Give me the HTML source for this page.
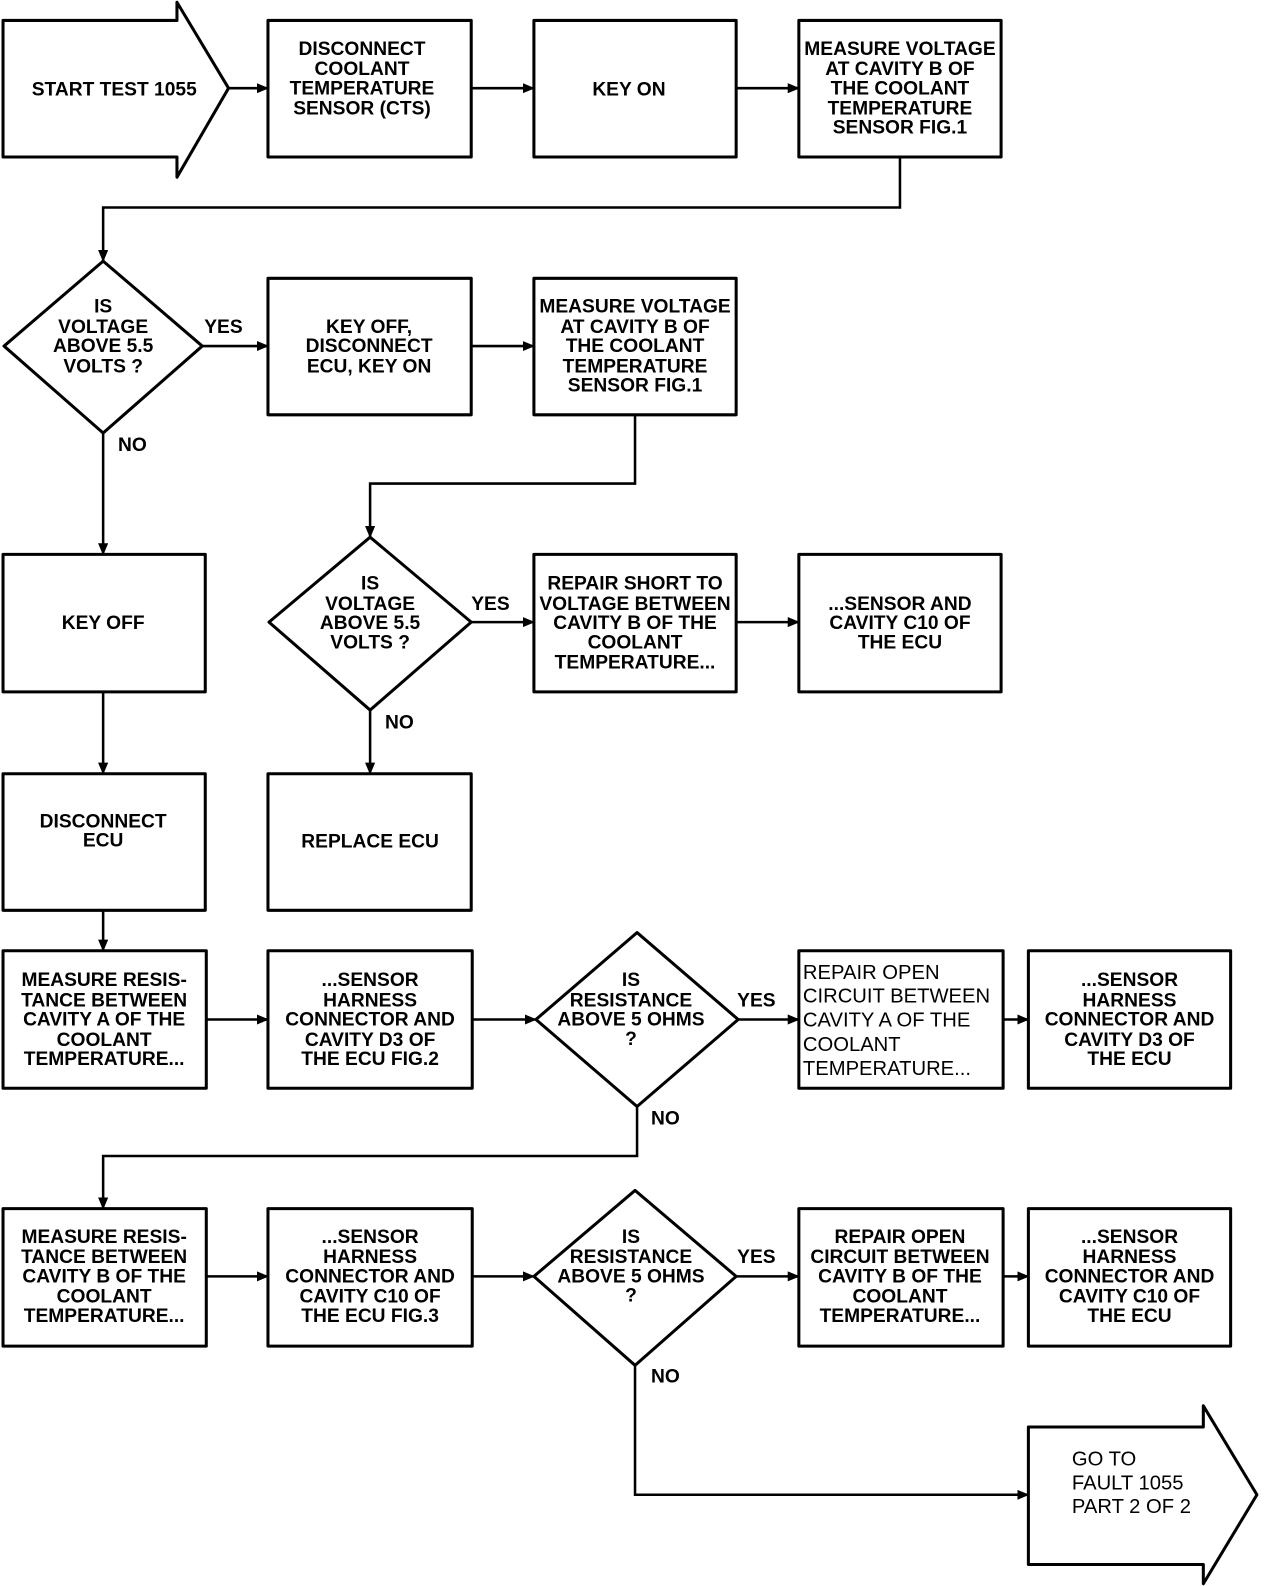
<!DOCTYPE html>
<html><head><meta charset="utf-8"><style>
html,body{margin:0;padding:0;background:#fff;}
svg{display:block;}
.b text{font-family:"Liberation Sans",sans-serif;font-weight:bold;font-size:19px;text-anchor:middle;}
.r text{font-family:"Liberation Sans",sans-serif;font-size:20px;text-anchor:start;}
</style></head><body>
<svg width="1264" height="1586" viewBox="0 0 1250 1568" xmlns="http://www.w3.org/2000/svg">
<defs><marker id="a" markerWidth="12" markerHeight="10" refX="11" refY="5" orient="auto" markerUnits="userSpaceOnUse"><path d="M0,0 L12,5 L0,10 Z" fill="#000"/></marker></defs>
<g fill="none" stroke="#000" stroke-width="3" stroke-linejoin="round">
<path d="M3,20 H175 V2 L226,87 L175,175 V155 H3 Z"/>
<rect x="265" y="20" width="201" height="135"/>
<rect x="528" y="20" width="200" height="135"/>
<rect x="790" y="20" width="200" height="135"/>
<path d="M102,258 L200,342 L102,428 L4,342 Z"/>
<rect x="265" y="275" width="201" height="135"/>
<rect x="528" y="275" width="200" height="135"/>
<path d="M366,531 L466,615 L366,702 L266,615 Z"/>
<rect x="528" y="548" width="200" height="136"/>
<rect x="790" y="548" width="200" height="136"/>
<rect x="3" y="548" width="200" height="136"/>
<rect x="3" y="765" width="200" height="135"/>
<rect x="265" y="765" width="201" height="135"/>
<rect x="3" y="940" width="201" height="136"/>
<rect x="265" y="940" width="202" height="136"/>
<path d="M630,922 L730,1008 L630,1094 L530,1008 Z"/>
<rect x="790" y="940" width="202" height="136"/>
<rect x="1017" y="940" width="200" height="136"/>
<rect x="3" y="1195" width="201" height="136"/>
<rect x="265" y="1195" width="202" height="136"/>
<path d="M628,1177 L728,1262 L628,1350 L528,1262 Z"/>
<rect x="790" y="1195" width="202" height="136"/>
<rect x="1017" y="1195" width="200" height="136"/>
<path d="M1017,1411 H1190 V1390 L1243,1478 L1190,1566 V1547 H1017 Z"/>
</g>
<g fill="none" stroke="#000" stroke-width="2.5" marker-end="url(#a)">
<path d="M226,87 H265"/>
<path d="M466,87 H528"/>
<path d="M728,87 H790"/>
<path d="M890,155 V205 H102 V258"/>
<path d="M200,342 H265"/>
<path d="M466,342 H528"/>
<path d="M628,410 V478 H366 V531"/>
<path d="M466,615 H528"/>
<path d="M728,615 H790"/>
<path d="M102,428 V548"/>
<path d="M366,702 V765"/>
<path d="M102,684 V765"/>
<path d="M102,900 V940"/>
<path d="M204,1008 H265"/>
<path d="M467,1008 H530"/>
<path d="M730,1008 H790"/>
<path d="M992,1008 H1017"/>
<path d="M630,1094 V1143 H102 V1195"/>
<path d="M204,1262 H265"/>
<path d="M467,1262 H528"/>
<path d="M728,1262 H790"/>
<path d="M992,1262 H1017"/>
<path d="M628,1350 V1478 H1017"/>
</g>
<g class="b">
<text x="113" y="94">START TEST 1055</text>
<text x="358" y="54">DISCONNECT</text><text x="358" y="74">COOLANT</text><text x="358" y="93">TEMPERATURE</text><text x="358" y="113">SENSOR (CTS)</text>
<text x="622" y="94">KEY ON</text>
<text x="890" y="54">MEASURE VOLTAGE</text><text x="890" y="74">AT CAVITY B OF</text><text x="890" y="93">THE COOLANT</text><text x="890" y="113">TEMPERATURE</text><text x="890" y="132">SENSOR FIG.1</text>
<text x="102" y="309">IS</text><text x="102" y="329">VOLTAGE</text><text x="102" y="348">ABOVE 5.5</text><text x="102" y="368">VOLTS ?</text>
<text x="221" y="329">YES</text><text x="131" y="446">NO</text>
<text x="365" y="329">KEY OFF,</text><text x="365" y="348">DISCONNECT</text><text x="365" y="368">ECU, KEY ON</text>
<text x="628" y="309">MEASURE VOLTAGE</text><text x="628" y="329">AT CAVITY B OF</text><text x="628" y="348">THE COOLANT</text><text x="628" y="368">TEMPERATURE</text><text x="628" y="387">SENSOR FIG.1</text>
<text x="102" y="622">KEY OFF</text>
<text x="366" y="583">IS</text><text x="366" y="603">VOLTAGE</text><text x="366" y="622">ABOVE 5.5</text><text x="366" y="641">VOLTS ?</text>
<text x="485" y="603">YES</text><text x="395" y="720">NO</text>
<text x="628" y="583">REPAIR SHORT TO</text><text x="628" y="603">VOLTAGE BETWEEN</text><text x="628" y="622">CAVITY B OF THE</text><text x="628" y="641">COOLANT</text><text x="628" y="661">TEMPERATURE...</text>
<text x="890" y="603">...SENSOR AND</text><text x="890" y="622">CAVITY C10 OF</text><text x="890" y="641">THE ECU</text>
<text x="102" y="818">DISCONNECT</text><text x="102" y="837">ECU</text>
<text x="366" y="838">REPLACE ECU</text>
<text x="103" y="975">MEASURE RESIS-</text><text x="103" y="995">TANCE BETWEEN</text><text x="103" y="1014">CAVITY A OF THE</text><text x="103" y="1034">COOLANT</text><text x="103" y="1053">TEMPERATURE...</text>
<text x="366" y="975">...SENSOR</text><text x="366" y="995">HARNESS</text><text x="366" y="1014">CONNECTOR AND</text><text x="366" y="1034">CAVITY D3 OF</text><text x="366" y="1053">THE ECU FIG.2</text>
<text x="624" y="975">IS</text><text x="624" y="995">RESISTANCE</text><text x="624" y="1014">ABOVE 5 OHMS</text><text x="624" y="1033">?</text>
<text x="748" y="995">YES</text><text x="658" y="1112">NO</text>
<text x="1117" y="975">...SENSOR</text><text x="1117" y="995">HARNESS</text><text x="1117" y="1014">CONNECTOR AND</text><text x="1117" y="1034">CAVITY D3 OF</text><text x="1117" y="1053">THE ECU</text>
<text x="103" y="1229">MEASURE RESIS-</text><text x="103" y="1249">TANCE BETWEEN</text><text x="103" y="1268">CAVITY B OF THE</text><text x="103" y="1288">COOLANT</text><text x="103" y="1307">TEMPERATURE...</text>
<text x="366" y="1229">...SENSOR</text><text x="366" y="1249">HARNESS</text><text x="366" y="1268">CONNECTOR AND</text><text x="366" y="1288">CAVITY C10 OF</text><text x="366" y="1307">THE ECU FIG.3</text>
<text x="624" y="1229">IS</text><text x="624" y="1249">RESISTANCE</text><text x="624" y="1268">ABOVE 5 OHMS</text><text x="624" y="1287">?</text>
<text x="748" y="1249">YES</text><text x="658" y="1367">NO</text>
<text x="890" y="1229">REPAIR OPEN</text><text x="890" y="1249">CIRCUIT BETWEEN</text><text x="890" y="1268">CAVITY B OF THE</text><text x="890" y="1288">COOLANT</text><text x="890" y="1307">TEMPERATURE...</text>
<text x="1117" y="1229">...SENSOR</text><text x="1117" y="1249">HARNESS</text><text x="1117" y="1268">CONNECTOR AND</text><text x="1117" y="1288">CAVITY C10 OF</text><text x="1117" y="1307">THE ECU</text>
</g>
<g class="r">
<text x="794" y="968">REPAIR OPEN</text><text x="794" y="991">CIRCUIT BETWEEN</text><text x="794" y="1015">CAVITY A OF THE</text><text x="794" y="1039">COOLANT</text><text x="794" y="1063">TEMPERATURE...</text>
<text x="1060" y="1449">GO TO</text><text x="1060" y="1473">FAULT 1055</text><text x="1060" y="1496">PART 2 OF 2</text>
</g>
</svg>
</body></html>
